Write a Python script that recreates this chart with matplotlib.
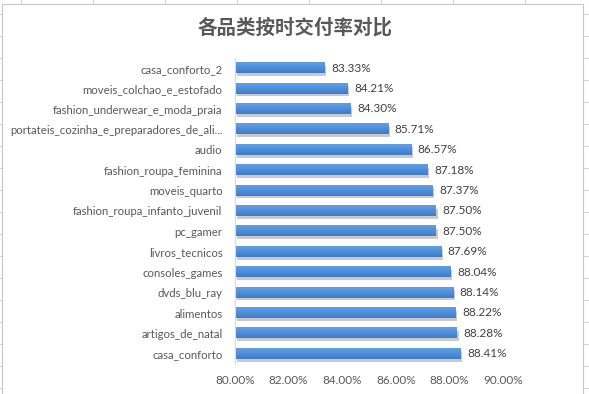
import matplotlib as mpl
mpl.use('Agg')
import numpy as np
import matplotlib.pyplot as plt
import matplotlib.patheffects as pe
from matplotlib.patches import Rectangle
from matplotlib.lines import Line2D
from matplotlib.colors import LinearSegmentedColormap

# data, top to bottom as shown
categories = ["casa_conforto_2", "moveis_colchao_e_estofado", "fashion_underwear_e_moda_praia",
              "portateis_cozinha_e_preparadores_de_ali...", "audio", "fashion_roupa_feminina",
              "moveis_quarto", "fashion_roupa_infanto_juvenil", "pc_gamer", "livros_tecnicos",
              "consoles_games", "dvds_blu_ray", "alimentos", "artigos_de_natal", "casa_conforto"]
rates = [83.33, 84.21, 84.30, 85.71, 86.57, 87.18, 87.37, 87.50, 87.50, 87.69,
         88.04, 88.14, 88.22, 88.28, 88.41]
xticks = [80, 82, 84, 86, 88, 90]

W, H = 589, 394
fig = plt.figure(figsize=(W / 100, H / 100), dpi=100)

# spreadsheet cell grid behind the chart
grid_c = '#d4d4d4'
for x in range(21, W + 72, 72):
    fig.add_artist(Line2D([x / W, x / W], [0, 1], color=grid_c, lw=0.8, zorder=-10))
for y in range(14, H + 22, 22):
    fig.add_artist(Line2D([0, 1], [1 - y / H, 1 - y / H], color=grid_c, lw=0.8, zorder=-10))
fig.add_artist(Rectangle((2 / W, -0.05), 581 / W, 1 - 4 / H + 0.05, facecolor='white',
                         edgecolor='#c8c8c8', lw=0.8, zorder=-5))

ax = fig.add_axes([235 / W, 1 - 364 / H, 268 / W, 306 / H])
ax.patch.set_alpha(0)

lbl_font = ['Lato', 'DejaVu Sans']
txt_c = '#595959'
grad = LinearSegmentedColormap.from_list('g', ['#62a0e4', '#4e8fda', '#3d7ccb'])
gimg = np.linspace(0, 1, 32).reshape(-1, 1)

y = range(len(categories))
bars = ax.barh(y, [r - 80 for r in rates], left=80, height=0.5, facecolor='none',
               lw=0, zorder=3)
for b in bars:
    b.set_path_effects([pe.SimplePatchShadow(offset=(1.2, -2), shadow_rgbFace='#8a8a8a', alpha=0.45),
                        pe.Normal()])
    x0, y0, w, h = b.get_x(), b.get_y(), b.get_width(), b.get_height()
    ax.imshow(gimg, cmap=grad, aspect='auto', extent=(x0, x0 + w, y0 + h, y0),
              interpolation='bilinear', zorder=4)

for r, yy in zip(rates, y):
    ax.text(r + 0.25, yy, f"{r:.2f}%", va='center', ha='left', fontsize=8.5,
            color='#404040', family=lbl_font)

ax.set_ylim(len(categories) - 0.5, -0.5)
ax.set_xlim(80, 90)
ax.set_yticks(list(y))
ax.set_yticklabels(categories, family=lbl_font, fontsize=8.2, color=txt_c)
ax.set_xticks(xticks)
ax.set_xticklabels([f"{t:.2f}%" for t in xticks], family=lbl_font, fontsize=8.5, color=txt_c)
ax.tick_params(axis='y', length=0, pad=9)
ax.tick_params(axis='x', length=0, pad=8)
for s in ['top', 'right', 'bottom']:
    ax.spines[s].set_visible(False)
ax.spines['left'].set_color('#d9d9d9')
ax.spines['left'].set_zorder(5)

fig.text(295 / W, 1 - 28 / H, "各品类按时交付率对比", ha='center', va='center', fontsize=14,
         fontweight='bold', color=txt_c, family=['Noto Sans CJK SC', 'DejaVu Sans'])

fig.savefig('out.png', dpi=100)
